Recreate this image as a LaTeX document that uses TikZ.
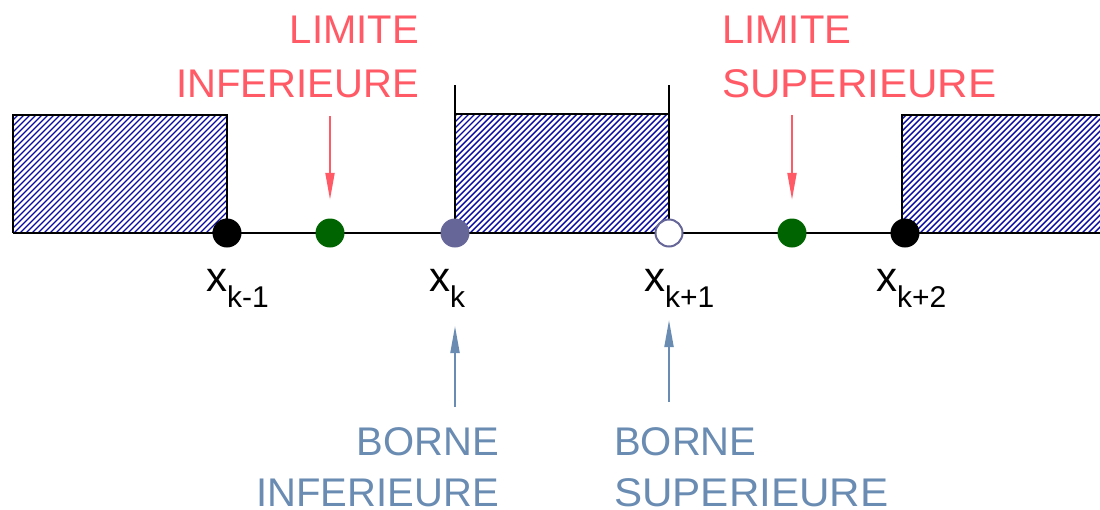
\documentclass[tikz,border=0pt]{standalone}
\usepackage{fontspec}
\setmainfont{Liberation Sans}
\usetikzlibrary{arrows.meta}
\definecolor{limred}{HTML}{FF5A66}
\definecolor{bornblue}{HTML}{6A8CB2}
\definecolor{hatchblue}{HTML}{0A0AA0}
\definecolor{dotgreen}{HTML}{006400}
\definecolor{dotpurple}{HTML}{666699}
\newcommand\hatchrect[4]{%
  \begin{scope}
    \clip (#1,#2) rectangle (#3,#4);
    \foreach \a in {0,6,...,1260} {
      \draw[hatch] (\a-130,#4) -- ++(130,-130);
    }
  \end{scope}}
\newcommand\widetext[1]{\scalebox{1.055}[1]{#1}}
\begin{document}
\begin{tikzpicture}[x=1pt,y=-1pt,
  hatch/.style={draw=hatchblue, line width=1.4pt},
  dot/.style={circle, inner sep=0pt, minimum size=29pt},
  lbl/.style={inner sep=0pt, font=\fontsize{40}{40}\selectfont},
  redlbl/.style={lbl, text=limred},
  bluelbl/.style={lbl, text=bornblue},
  xlbl/.style={inner sep=0pt, anchor=base west},
  redarrow/.style={draw=limred, line width=2pt, -{Triangle[length=27pt,width=9pt]}},
  bluearrow/.style={draw=bornblue, line width=2pt, -{Triangle[length=27pt,width=9pt]}},
  boxline/.style={line width=2.6pt, black},
]
\useasboundingbox (0,0) rectangle (1100,509);

% hatched intervals
\hatchrect{13}{115}{227}{233}
\hatchrect{455}{114}{669}{233}
\hatchrect{902}{115}{1100}{233}

% box outlines
\draw[boxline] (227,233) -- (227,115) -- (13,115) -- (13,233);
\draw[boxline] (455,114) -- (669,114);
\draw[boxline] (455,85) -- (455,233);
\draw[boxline] (669,85) -- (669,233);
\draw[boxline] (1100,115) -- (902,115) -- (902,233);

% axis
\draw[boxline] (13,233) -- (1100,233);

% points
\node[dot, fill=black] (dkm1) at (227,233) {};
\node[dot, fill=dotgreen] (dlinf) at (330,233) {};
\node[dot, fill=dotpurple] (dk) at (455,233) {};
\node[dot, fill=white, draw=dotpurple, line width=2pt, minimum size=27pt] (dkp1) at (669,233) {};
\node[dot, fill=dotgreen] (dlsup) at (792,233) {};
\node[dot, fill=black] (dkp2) at (905,233) {};

% x labels
\node[xlbl] (xkm1) at (206,291) {\fontsize{42}{42}\selectfont x\raisebox{-16pt}{\fontsize{30}{30}\selectfont k-1}};
\node[xlbl] (xk) at (429,291) {\fontsize{42}{42}\selectfont x\raisebox{-16pt}{\fontsize{30}{30}\selectfont k}};
\node[xlbl] (xkp1) at (644,291) {\fontsize{42}{42}\selectfont x\raisebox{-16pt}{\fontsize{30}{30}\selectfont k+1}};
\node[xlbl] (xkp2) at (876,291) {\fontsize{42}{42}\selectfont x\raisebox{-16pt}{\fontsize{30}{30}\selectfont k+2}};

% red labels
\node[redlbl, anchor=base east] (li1) at (419,43) {LIMITE};
\node[redlbl, anchor=base east] (li2) at (419,97) {INFERIEURE};
\node[redlbl, anchor=base west] (ls1) at (722,43) {LIMITE};
\node[redlbl, anchor=base west] (ls2) at (722,97) {\widetext{SUPERIEURE}};

% blue labels
\node[bluelbl, anchor=base east] (bi1) at (499,455) {BORNE};
\node[bluelbl, anchor=base east] (bi2) at (499,506) {INFERIEURE};
\node[bluelbl, anchor=base west] (bs1) at (614,455) {BORNE};
\node[bluelbl, anchor=base west] (bs2) at (614,506) {\widetext{SUPERIEURE}};

% red arrows
\coordinate (ra1) at (330,116);
\coordinate (ra2) at (792,115);
\draw[redarrow] (ra1) -- ([yshift=18.5pt]dlinf.north);
\draw[redarrow] (ra2) -- ([yshift=18.5pt]dlsup.north);

% blue arrows
\coordinate (bb1) at (455,407);
\coordinate (bt1) at (455,326);
\coordinate (bb2) at (669,402);
\coordinate (bt2) at (669,320);
\draw[bluearrow] (bb1) -- (bt1);
\draw[bluearrow] (bb2) -- (bt2);
\end{tikzpicture}
\end{document}
